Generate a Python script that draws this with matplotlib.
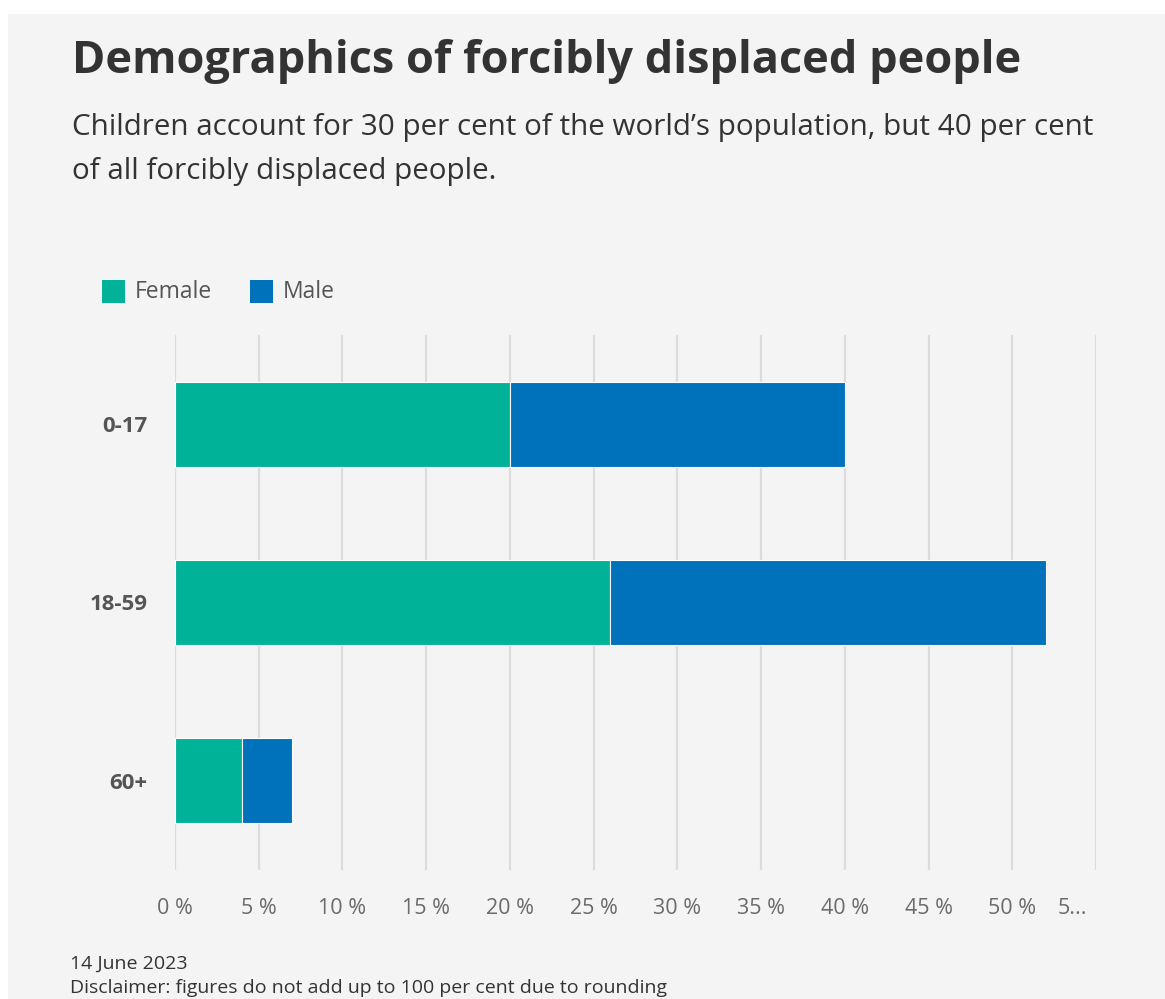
import matplotlib.pyplot as plt
from matplotlib.patches import Rectangle
from matplotlib.transforms import ScaledTranslation

plt.rcParams['font.family'] = ['Open Sans', 'DejaVu Sans']

age_groups = ["0-17", "18-59", "60+"]
female = [20, 26, 4]
male = [20, 26, 3]
tick_values = [0, 5, 10, 15, 20, 25, 30, 35, 40, 45, 50, 55]
tick_labels = ["0 %", "5 %", "10 %", "15 %", "20 %", "25 %", "30 %",
               "35 %", "40 %", "45 %", "50 %", "5..."]

teal = "#00b398"
blue = "#0072bc"

fig = plt.figure(figsize=(11.65, 9.99), dpi=100)
fig.patch.set_facecolor("white")
# grey card behind everything
fig.patches.append(Rectangle((8 / 1165, 0), 1 - 8 / 1165, 1 - 14 / 999,
                             transform=fig.transFigure, facecolor="#f4f4f4",
                             edgecolor="none", zorder=-5))

ax = fig.add_axes([175 / 1165, 1 - 870 / 999, 921 / 1165, 535 / 999])
ax.set_facecolor("none")

y = range(len(age_groups))
ax.barh(y, female, height=0.475, color=teal, edgecolor="white", linewidth=0.8, zorder=3)
ax.barh(y, male, left=female, height=0.475, color=blue, edgecolor="white", linewidth=0.8, zorder=3)

ax.set_xlim(0, 55)
ax.set_ylim(2.5, -0.5)
ax.set_xticks(tick_values)
ax.set_xticklabels(tick_labels, color="#6b6b6b", fontsize=15.5)
ax.set_yticks(list(y))
ax.set_yticklabels(age_groups, color="#555555", fontsize=16, fontweight="bold")
ax.tick_params(axis="x", length=0, pad=20)
ax.tick_params(axis="y", length=0, pad=20)
ax.grid(axis="x", color="#dcdcdc", linewidth=1.6, zorder=0)
for s in ax.spines.values():
    s.set_visible(False)
# truncated last label sits left of its gridline
last = ax.get_xticklabels()[-1]
last.set_transform(last.get_transform() + ScaledTranslation(-0.24, 0, fig.dpi_scale_trans))

fig.text(72 / 1165, 1 - 62 / 999, "Demographics of forcibly displaced people",
         fontsize=32.5, fontweight="bold", color="#333333", va="center")
fig.text(72 / 1165, 1 - 128 / 999,
         "Children account for 30 per cent of the world\u2019s population, but 40 per cent",
         fontsize=21.3, color="#333333", va="center")
fig.text(72 / 1165, 1 - 172 / 999, "of all forcibly displaced people.",
         fontsize=21.3, color="#333333", va="center")

# legend
fig.patches.append(Rectangle((102 / 1165, 1 - 303 / 999), 23 / 1165, 23 / 999,
                             transform=fig.transFigure, facecolor=teal, edgecolor="none"))
fig.text(135 / 1165, 1 - 292 / 999, "Female", fontsize=16.5, color="#555555", va="center")
fig.patches.append(Rectangle((250 / 1165, 1 - 303 / 999), 23 / 1165, 23 / 999,
                             transform=fig.transFigure, facecolor=blue, edgecolor="none"))
fig.text(283 / 1165, 1 - 292 / 999, "Male", fontsize=16.5, color="#555555", va="center")

fig.text(70 / 1165, 1 - 964 / 999, "14 June 2023", fontsize=14, color="#333333", va="center")
fig.text(70 / 1165, 1 - 988 / 999,
         "Disclaimer: figures do not add up to 100 per cent due to rounding",
         fontsize=14, color="#333333", va="center")

fig.savefig("out.png", dpi=100, facecolor=fig.get_facecolor())
